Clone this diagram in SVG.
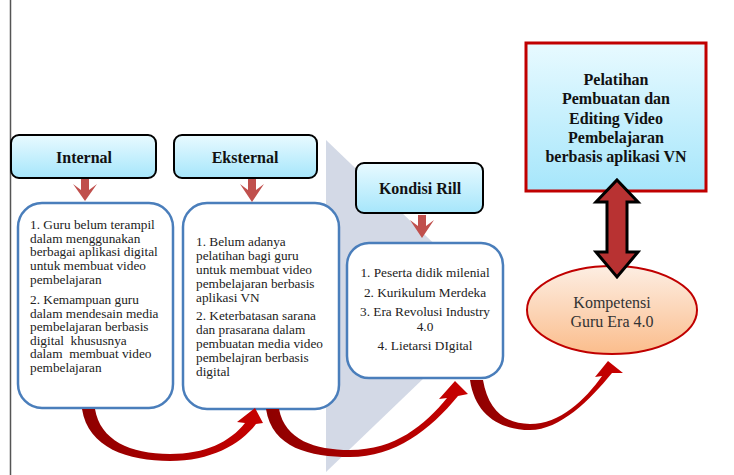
<svg xmlns="http://www.w3.org/2000/svg" width="734" height="475" viewBox="0 0 734 475">
<defs>
<linearGradient id="hdr" x1="0" y1="0" x2="0" y2="1"><stop offset="0" stop-color="#e8faff"/><stop offset="1" stop-color="#a6e6fb"/></linearGradient>
<linearGradient id="ell" x1="0" y1="0" x2="0" y2="1"><stop offset="0" stop-color="#fdeee3"/><stop offset="1" stop-color="#fbbd8c"/></linearGradient>
<linearGradient id="curv" x1="0" y1="0" x2="1" y2="0"><stop offset="0" stop-color="#8e0000"/><stop offset="1" stop-color="#c80000"/></linearGradient>
<style>
.hdr{fill:url(#hdr);stroke:#000;stroke-width:2}
.box{fill:#fff;stroke:#4a7ebb;stroke-width:2.5}
.ht{font-family:"Liberation Serif",serif;font-weight:bold;font-size:16px;fill:#111;text-anchor:middle}
.bt{font-family:"Liberation Serif",serif;font-size:13.3px;fill:#222}
.ct{font-family:"Liberation Serif",serif;font-size:13.3px;fill:#222;text-anchor:middle}
.down{fill:#c0504d}
.curv{fill:url(#curv)}
</style>
</defs>
<rect width="734" height="475" fill="#fff"/>
<line x1="10.5" y1="0" x2="10.5" y2="475" stroke="#555" stroke-width="1.5"/>
<polygon points="326,140 499,306 326,472" fill="#d3d9e6"/>

<g id="internal-header">
<rect class="hdr" x="11" y="135" width="145" height="43" rx="8"/>
<text class="ht" x="84" y="163">Internal</text>
</g>
<g id="internal-box">
<rect class="box" x="18" y="203" width="155" height="205" rx="24"/>
<text class="bt" x="30"><tspan x="30" y="229">1. Guru belum terampil</tspan><tspan x="30" y="242.7">dalam menggunakan</tspan><tspan x="30" y="256.4">berbagai aplikasi digital</tspan><tspan x="30" y="270.1">untuk membuat video</tspan><tspan x="30" y="283.8">pembelajaran</tspan><tspan x="30" y="304">2. Kemampuan guru</tspan><tspan x="30" y="317.5">dalam mendesain media</tspan><tspan x="30" y="331">pembelajaran berbasis</tspan><tspan x="30" y="344.5" xml:space="preserve">digital  khususnya</tspan><tspan x="30" y="358" xml:space="preserve">dalam  membuat video</tspan><tspan x="30" y="371.5">pembelajaran</tspan></text>
</g>

<g id="eksternal-header">
<rect class="hdr" x="174" y="135" width="143" height="43" rx="8"/>
<text class="ht" x="245" y="163">Eksternal</text>
</g>
<g id="eksternal-box">
<rect class="box" x="183" y="203" width="156" height="206" rx="24"/>
<text class="bt"><tspan x="196" y="246">1. Belum adanya</tspan><tspan x="196" y="260">pelatihan bagi guru</tspan><tspan x="196" y="274">untuk membuat video</tspan><tspan x="196" y="288">pembelajaran berbasis</tspan><tspan x="196" y="302">aplikasi VN</tspan><tspan x="196" y="320">2. Keterbatasan sarana</tspan><tspan x="196" y="334">dan prasarana dalam</tspan><tspan x="196" y="348">pembuatan media video</tspan><tspan x="196" y="362">pembelajran berbasis</tspan><tspan x="196" y="376">digital</tspan></text>
</g>

<g id="kondisi-header">
<rect class="hdr" x="356" y="163" width="127" height="50" rx="8"/>
<text class="ht" x="420" y="194">Kondisi Rill</text>
</g>
<g id="kondisi-box">
<rect class="box" x="347" y="243" width="156" height="135" rx="22"/>
<text class="ct"><tspan x="425" y="277">1. Peserta didik milenial</tspan><tspan x="425" y="297">2. Kurikulum Merdeka</tspan><tspan x="425" y="316">3. Era Revolusi Industry</tspan><tspan x="425" y="331">4.0</tspan><tspan x="425" y="350">4. Lietarsi DIgital</tspan></text>
</g>

<g id="pelatihan">
<rect x="526" y="43" width="180" height="148" fill="url(#hdr)" stroke="#c00000" stroke-width="3"/>
<text class="ht" font-size="16"><tspan x="616" y="85">Pelatihan</tspan><tspan x="616" y="104.3">Pembuatan dan</tspan><tspan x="616" y="123.6">Editing Video</tspan><tspan x="616" y="142.9">Pembelajaran</tspan><tspan x="616" y="162.2">berbasis aplikasi VN</tspan></text>
</g>

<g id="kompetensi">
<ellipse cx="612" cy="310" rx="85" ry="44" fill="url(#ell)" stroke="#c00000" stroke-width="2"/>
<text font-family="Liberation Serif, serif" font-size="16" fill="#333" text-anchor="middle"><tspan x="612" y="308">Kompetensi</tspan><tspan x="612" y="327">Guru Era 4.0</tspan></text>
</g>

<g id="connectors">
<path class="down" d="M81 179 L89 179 L89 190 L97 184 L85 201 L73 184 L81 190 Z"/>
<path class="down" d="M248 179 L256 179 L256 190 L264 184 L252 202 L240 184 L248 190 Z"/>
<path class="down" d="M418 215 L426 215 L426 226 L434 220 L422 238 L410 220 L418 226 Z"/>
<path d="M617 180 L638 202 L627 202 L627 252 L638 252 L617 277 L596 252 L607 252 L607 202 L596 202 Z" fill="#b83232" stroke="#000" stroke-width="3" stroke-linejoin="miter"/>
<path class="curv" d="M82 409 C88 448 128 461 170 461 C210 461 240 445 256 424 L263 423 L255 408 L237 422 L245 423 C230 442 205 454 170 454 C130 454 100 440 95 409 Z"/>
<path class="curv" d="M266 409 C272 448 310 457 350 457 C395 457 430 430 458 396 L468 394 L455 381 L439 399 L447 398 C425 425 395 450 350 450 C315 450 285 440 279 409 Z"/>
<path class="curv" d="M470 380 C475 415 500 430 530 430 C560 430 590 400 612 373 L623 373 L608 361 L595 377 L602 376 C585 400 560 424 530 424 C505 424 488 410 483 380 Z"/>
</g>
</svg>
